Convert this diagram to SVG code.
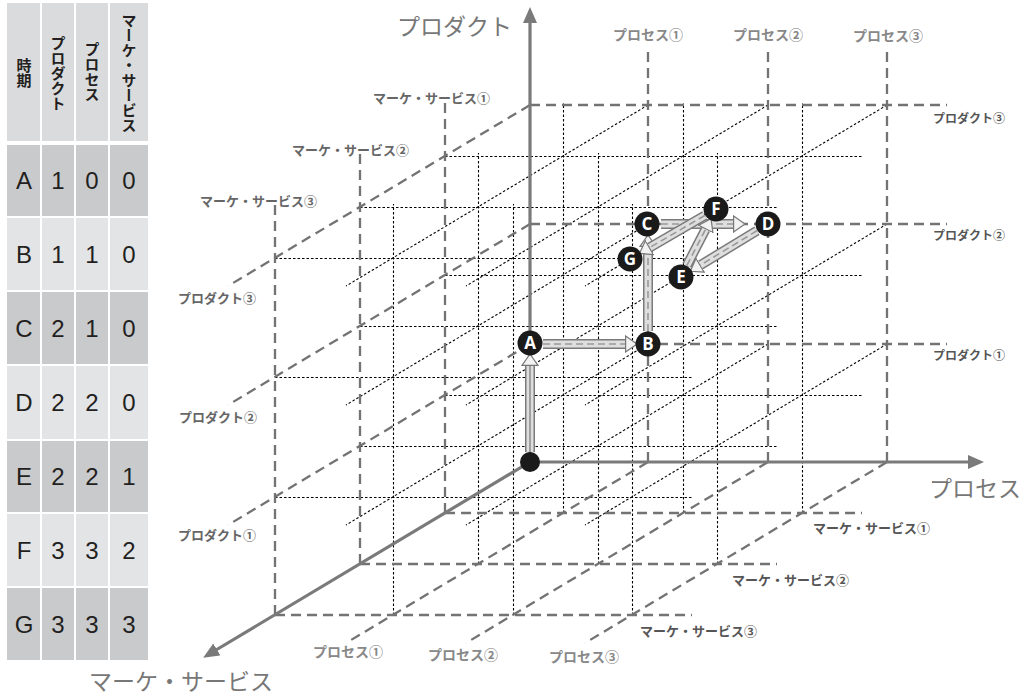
<svg xmlns="http://www.w3.org/2000/svg" width="1032" height="696" viewBox="0 0 1032 696">
<defs>
<style>
.hd{fill:#dadbdc}
.dk{fill:#c9cacc}
.lt{fill:#e3e4e6}
.ht{font-family:"Noto Sans CJK JP",sans-serif;font-size:15px;font-weight:bold;fill:#231f20;writing-mode:vertical-rl;text-anchor:middle}
.td{font-family:"Liberation Sans",Arial,sans-serif;font-size:24px;fill:#231f20;text-anchor:middle}
.ld{stroke:#737373;stroke-width:2.3;stroke-dasharray:10 6;fill:none}
.dt{stroke:#000;stroke-width:1.1;stroke-dasharray:2.5 2;fill:none}
.ax{stroke:#7a7a7a;stroke-width:3.2;fill:none}
.lb{font-family:"Noto Sans CJK JP",sans-serif;font-weight:bold;font-size:13px;fill:#666}
.lp{font-family:"Noto Sans CJK JP",sans-serif;font-weight:bold;font-size:14px;fill:#888;text-anchor:middle}
.big{font-family:"Noto Sans CJK JP",sans-serif;font-size:23px;fill:#777}
.ao{stroke:#7a7a7a;stroke-width:10;fill:none;marker-end:url(#ah)}
.ai{stroke:#dedede;stroke-width:7;fill:none}
.ac{stroke:#9a9a9a;stroke-width:1.6;stroke-dasharray:7 4;fill:none}
.nc{fill:#1a1a1a}
.nt{font-family:"Open Sans","Liberation Sans",sans-serif;font-weight:bold;font-size:17px;fill:#fff;text-anchor:middle}
</style>
<marker id="ah" markerUnits="userSpaceOnUse" markerWidth="14" markerHeight="18" refX="0" refY="9" orient="auto" viewBox="0 0 14 18"><path d="M0.6,1 L12,9 L0.6,17 z" fill="#f2f2f2" stroke="#777" stroke-width="1.2"/></marker>
<marker id="axh" markerUnits="userSpaceOnUse" markerWidth="16" markerHeight="14" refX="1" refY="7" orient="auto" viewBox="0 0 16 14"><path d="M0,0 L16,7 L0,14 z" fill="#7a7a7a"/></marker>
</defs>
<rect width="1032" height="696" fill="#fff"/>

<g id="table">
<rect class="hd" x="7" y="3" width="33" height="138"/>
<rect class="hd" x="42" y="3" width="32" height="138"/>
<rect class="hd" x="76" y="3" width="32" height="138"/>
<rect class="hd" x="110" y="3" width="38" height="138"/>
<text class="ht" x="24" y="73">時期</text>
<text class="ht" x="58" y="73">プロダクト</text>
<text class="ht" x="92" y="72">プロセス</text>
<text class="ht" x="129" y="73">マーケ・サービス</text>
<g class="dk"><rect x="7" y="145" width="33" height="71"/><rect x="42" y="145" width="32" height="71"/><rect x="76" y="145" width="32" height="71"/><rect x="110" y="145" width="38" height="71"/></g>
<g class="lt"><rect x="7" y="218" width="33" height="72"/><rect x="42" y="218" width="32" height="72"/><rect x="76" y="218" width="32" height="72"/><rect x="110" y="218" width="38" height="72"/></g>
<g class="dk"><rect x="7" y="292" width="33" height="72"/><rect x="42" y="292" width="32" height="72"/><rect x="76" y="292" width="32" height="72"/><rect x="110" y="292" width="38" height="72"/></g>
<g class="lt"><rect x="7" y="366" width="33" height="73"/><rect x="42" y="366" width="32" height="73"/><rect x="76" y="366" width="32" height="73"/><rect x="110" y="366" width="38" height="73"/></g>
<g class="dk"><rect x="7" y="441" width="33" height="71"/><rect x="42" y="441" width="32" height="71"/><rect x="76" y="441" width="32" height="71"/><rect x="110" y="441" width="38" height="71"/></g>
<g class="lt"><rect x="7" y="514" width="33" height="72"/><rect x="42" y="514" width="32" height="72"/><rect x="76" y="514" width="32" height="72"/><rect x="110" y="514" width="38" height="72"/></g>
<g class="dk"><rect x="7" y="588" width="33" height="72"/><rect x="42" y="588" width="32" height="72"/><rect x="76" y="588" width="32" height="72"/><rect x="110" y="588" width="38" height="72"/></g>
<text class="td" x="24" y="189">A</text><text class="td" x="58" y="189">1</text><text class="td" x="92" y="189">0</text><text class="td" x="129" y="189">0</text>
<text class="td" x="24" y="263">B</text><text class="td" x="58" y="263">1</text><text class="td" x="92" y="263">1</text><text class="td" x="129" y="263">0</text>
<text class="td" x="24" y="337">C</text><text class="td" x="58" y="337">2</text><text class="td" x="92" y="337">1</text><text class="td" x="129" y="337">0</text>
<text class="td" x="24" y="411">D</text><text class="td" x="58" y="411">2</text><text class="td" x="92" y="411">2</text><text class="td" x="129" y="411">0</text>
<text class="td" x="24" y="485">E</text><text class="td" x="58" y="485">2</text><text class="td" x="92" y="485">2</text><text class="td" x="129" y="485">1</text>
<text class="td" x="24" y="559">F</text><text class="td" x="58" y="559">3</text><text class="td" x="92" y="559">3</text><text class="td" x="129" y="559">2</text>
<text class="td" x="24" y="633">G</text><text class="td" x="58" y="633">3</text><text class="td" x="92" y="633">3</text><text class="td" x="129" y="633">3</text>
</g>

<g id="grid">
<g class="dt">
<path d="M563.5,513V103M683.5,513V103M802.5,513V103M445,395.5H862M445,275.5H862M445,156.5H862"/>
<path d="M478.5,564V153M598.5,564V153M717.5,564V153M360,446.5H777M360,326.5H777M360,207.5H777"/>
<path d="M393.5,615V204M513.5,615V204M632.5,615V204M275,497.5H692M275,377.5H692M275,258.5H692"/>
<path d="M648,344L346,525M768,344L466,525M887,344L585,525M648,224L346,405M768,224L466,405M887,224L585,405M648,105L346,286M768,105L466,286M887,105L585,286"/>
</g>
<g class="ld">
<path d="M530,344H947M530,224H947M530,105H947"/>
<path d="M648,462V47M768,462V47M887,462V47"/>
<path d="M445,513V103M445,513H862M360,564V153M360,564H777M275,615V204M275,615H692"/>
<path d="M530,344L228,525M530,224L228,405M530,105L228,286"/>
<path d="M648,462L346,643M768,462L466,643M887,462L585,643"/>
</g>
</g>

<g id="labels">
<text class="lp" x="648" y="40">プロセス①</text>
<text class="lp" x="768" y="40">プロセス②</text>
<text class="lp" x="888" y="41">プロセス③</text>
<text class="lp" x="348" y="657">プロセス①</text>
<text class="lp" x="463" y="660">プロセス②</text>
<text class="lp" x="584" y="662">プロセス③</text>
<text class="lb" x="373" y="103">マーケ・サービス①</text>
<text class="lb" x="292" y="155">マーケ・サービス②</text>
<text class="lb" x="200" y="206">マーケ・サービス③</text>
<text class="lb" x="178" y="303">プロダクト③</text>
<text class="lb" x="179" y="422">プロダクト②</text>
<text class="lb" x="178" y="540">プロダクト①</text>
<text class="lb" x="933" y="123" style="font-size:12px;fill:#555">プロダクト③</text>
<text class="lb" x="933" y="240" style="font-size:12px;fill:#555">プロダクト②</text>
<text class="lb" x="933" y="360" style="font-size:12px;fill:#555">プロダクト①</text>
<text class="lb" x="813" y="533" style="fill:#555">マーケ・サービス①</text>
<text class="lb" x="732" y="585" style="fill:#555">マーケ・サービス②</text>
<text class="lb" x="640" y="636" style="fill:#555">マーケ・サービス③</text>
<text class="big" x="397" y="35">プロダクト</text>
<text class="big" x="929" y="497">プロセス</text>
<text class="big" x="89" y="690">マーケ・サービス</text>
</g>

<g id="axes">
<path class="ax" d="M530,462V22" marker-end="url(#axh)"/>
<path class="ax" d="M530,462H969" marker-end="url(#axh)"/>
<path class="ax" d="M530,462L216,650" marker-end="url(#axh)"/>
</g>

<g id="connectors">
<g id="arrow-O-A"><path class="ao" d="M530,452V366"/><path class="ai" d="M530,452V366"/><path d="M530,452V366" stroke="#a0a0a0" stroke-width="2"/></g>
<g id="arrow-A-B"><path class="ao" d="M543,344H625"/><path class="ai" d="M543,344H625"/><path class="ac" d="M543,344H625"/></g>
<g id="arrow-B-C"><path class="ao" d="M648,331V247"/><path class="ai" d="M648,331V247"/><path class="ac" d="M648,331V247"/></g>
<g id="arrow-C-D"><path class="ao" d="M661,224H733"/><path class="ai" d="M661,224H733"/><path class="ac" d="M661,224H733"/></g>
<g id="arrow-D-E"><path class="ao" d="M756.9,230.8L700.6,265"/><path class="ai" d="M756.9,230.8L700.6,265"/><path class="ac" d="M756.9,230.8L700.6,265"/></g>
<g id="arrow-E-F"><path class="ao" d="M686.9,265.4L705.5,229.4"/><path class="ai" d="M686.9,265.4L705.5,229.4"/><path class="ac" d="M686.9,265.4L705.5,229.4"/></g>
<g id="arrow-F-G"><path class="ao" d="M704.8,215.5L649.9,247.4"/><path class="ai" d="M704.8,215.5L649.9,247.4"/><path class="ac" d="M704.8,215.5L649.9,247.4"/></g>
</g>

<g id="node-O"><circle class="nc" cx="530" cy="462" r="10"/></g>
<g id="node-A"><circle class="nc" cx="530" cy="343" r="12.5"/><text class="nt" x="530" y="349">A</text></g>
<g id="node-B"><circle class="nc" cx="648" cy="344" r="12.5"/><text class="nt" x="648" y="350">B</text></g>
<g id="node-C"><circle class="nc" cx="647" cy="224" r="12.5"/><text class="nt" x="647" y="230">C</text></g>
<g id="node-D"><circle class="nc" cx="768" cy="224" r="12.5"/><text class="nt" x="768" y="230">D</text></g>
<g id="node-E"><circle class="nc" cx="681" cy="277" r="12.5"/><text class="nt" x="681" y="283">E</text></g>
<g id="node-F"><circle class="nc" cx="716" cy="209" r="12.5"/><text class="nt" x="716" y="215">F</text></g>
<g id="node-G"><circle class="nc" cx="630" cy="259" r="12.5"/><text class="nt" x="630" y="265">G</text></g>
</svg>
